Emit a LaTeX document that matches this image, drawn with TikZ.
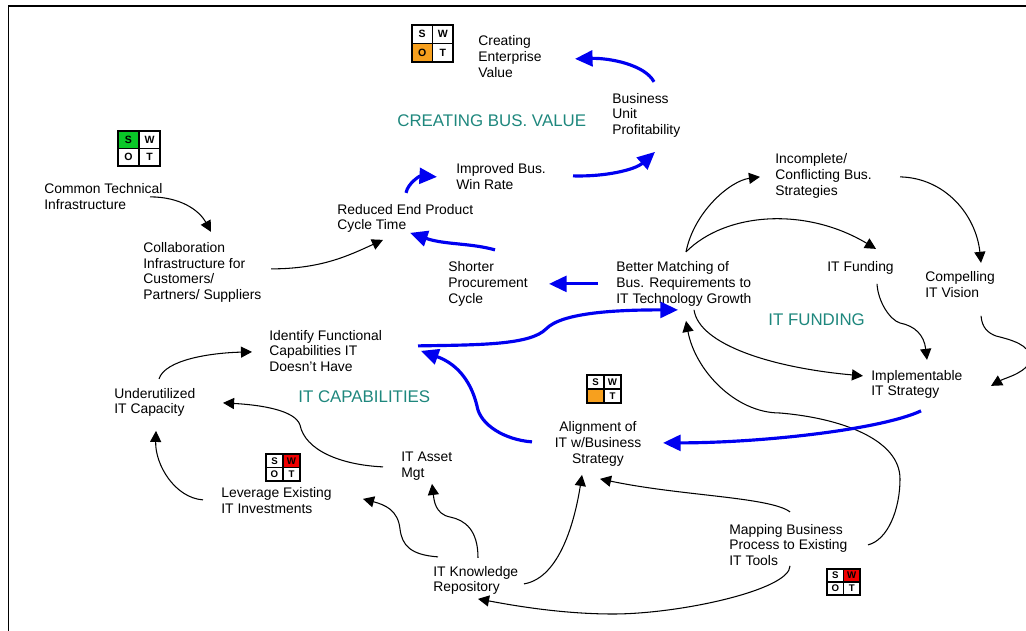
\documentclass[tikz,border=0pt]{standalone}
\usepackage{fontspec}
\setmainfont{Liberation Sans}
\usetikzlibrary{arrows.meta}
\definecolor{swotorange}{RGB}{247,160,30}
\definecolor{swotgreen}{RGB}{10,200,40}
\definecolor{swotred}{RGB}{240,0,0}
\definecolor{areateal}{RGB}{30,135,125}
\definecolor{flowblue}{RGB}{0,0,240}
\tikzset{%
    txt/.style={%
        inner sep=0pt, anchor=west, align=left, yshift=-0.5pt, font=\fontsize{7.9}{9}\selectfont
    },
    area/.style={%
        inner sep=0pt, anchor=west, text=areateal, font=\fontsize{9.6}{11}\selectfont
    },
    link/.style={%
        draw, line width=0.6pt, -{Triangle[length=6.3pt,width=6.3pt]}
    },
    flow/.style={%
        draw=flowblue, line width=1.8pt, -{Triangle[length=10pt,width=9pt]}
    },
    swotcell/.style={%
        draw, line width=0.75pt
    },
    swotletter/.style={%
        inner sep=0pt, font=\fontsize{#1}{#1}\selectfont\bfseries
    }
}
% name, corner, width, height, letter size, fills of S W O, letter of O
\newcommand{\swoticon}[9]{%
    \begin{scope}[shift={(#2)},xscale=#3,yscale=#4]
        \path[swotcell,fill=#6] (0,0) rectangle (0.5,0.5);
        \path[swotcell,fill=#7] (0.5,0) rectangle (1,0.5);
        \path[swotcell,fill=#8] (0,0.5) rectangle (0.5,1);
        \path[swotcell] (0.5,0.5) rectangle (1,1);
        \node[swotletter=#5] (#1s) at (0.25,0.25) {S};
        \node[swotletter=#5] (#1w) at (0.75,0.25) {W};
        \node[swotletter=#5] (#1o) at (0.25,0.75) {#9};
        \node[swotletter=#5] (#1t) at (0.75,0.75) {T};
    \end{scope}
}

\begin{document}
\begin{tikzpicture}[x=0.02cm,y=-0.02cm]
    \useasboundingbox (0,0) rectangle (1026,631);
    \draw[line width=1pt] (8.5,631) |- (1026,6);

    \swoticon{swotvalue}{412,25}{41}{37}{6}{white}{white}{swotorange}{O}
    \swoticon{swottech}{118,131}{42}{35}{6}{swotgreen}{white}{white}{O}
    \swoticon{swotalign}{587,375}{34}{28}{5.5}{white}{white}{swotorange}{}
    \swoticon{swotleverage}{266,454}{34}{27}{5.5}{white}{swotred}{white}{O}
    \swoticon{swotmapping}{827,569}{33}{26}{5.5}{white}{swotred}{white}{O}

    \node[area] (bus) at (397,121) {CREATING BUS. VALUE};
    \node[area] (fund) at (768,320) {IT FUNDING};
    \node[area] (cap) at (298,397) {IT CAPABILITIES};

    \node[txt] (creating) at (478,55.5) {Creating\\Enterprise\\Value};
    \node[txt] (business) at (612,114.5) {Business\\Unit\\Profitability};
    \node[txt] (incomplete) at (775,175) {Incomplete/\\Conflicting Bus.\\Strategies};
    \node[txt] (improved) at (456,176) {Improved Bus.\\Win Rate};
    \node[txt] (common) at (44,195.5) {Common Technical\\Infrastructure};
    \node[txt] (reduced) at (337,217.5) {Reduced End Product\\Cycle Time};
    \node[txt] (collab) at (143,271.5) {Collaboration\\Infrastructure for\\Customers/\\Partners/ Suppliers};
    \node[txt] (shorter) at (448,283) {Shorter\\Procurement\\Cycle};
    \node[txt] (better) at (616,283) {Better Matching of\\Bus. Requirements to\\IT Technology Growth};
    \node[txt] (funding) at (827,267) {IT Funding};
    \node[txt] (compelling) at (925,284) {Compelling\\IT Vision};
    \node[txt] (identify) at (269,350) {Identify Functional\\Capabilities IT\\Doesn't Have};
    \node[txt] (implement) at (871,383.5) {Implementable\\IT Strategy};
    \node[txt] (underused) at (114,401.5) {Underutilized\\IT Capacity};
    \node[txt,anchor=center,align=center] (align) at (598,443) {Alignment of\\IT w/Business\\Strategy};
    \node[txt] (asset) at (401,465.5) {IT Asset\\Mgt};
    \node[txt] (leverage) at (221,499.5) {Leverage Existing\\IT Investments};
    \node[txt] (mapping) at (729,544) {Mapping Business\\Process to Existing\\IT Tools};
    \node[txt] (repo) at (433,579.5) {IT Knowledge\\Repository};

    % black links
    \path[link] ([shift={(106,0.5)}]common.west) .. controls +(30,0) and +(-12,-22) .. ([shift={(68,-40.5)}]collab.west);
    \path[link] ([shift={(128,-3.5)}]collab.west) .. controls +(50,0) and +(-35,16) .. ([shift={(46,21.5)}]reduced.west);
    \path[link] ([shift={(70,-32)}]better.west) .. controls +(8,-40) and +(-30,4) .. ([shift={(-15,1)}]incomplete.west);
    \path[link] ([shift={(70,-32)}]better.west) .. controls +(40,-40) and +(-70,-42) .. ([shift={(49,-19)}]funding.west);
    \path[link] ([shift={(125,1)}]incomplete.west) .. controls +(45,1) and +(-5,-48) .. ([shift={(56,-22)}]compelling.west);
    \path[link] ([shift={(50,16)}]funding.west) .. controls +(1,18) and +(-10,-3) .. (900,323) .. controls +(15,3) and +(-3,-25) .. ([shift={(56,-24.5)}]implement.west);
    \path[link] ([shift={(56,31)}]compelling.west) .. controls +(1,12) and +(-8,-3) .. (996,336) .. controls +(16,4) and +(0,-13) .. (1030,358) .. controls +(0,14) and +(14,-8) .. ([shift={(120,1.5)}]implement.west);
    \path[link] ([shift={(78,26)}]better.west) .. controls +(5,35) and +(-90,-8) .. ([shift={(-8,-8.5)}]implement.west);
    \path[link] ([shift={(139,0)}]mapping.west) .. controls +(20,-5) and +(0,30) .. (900,479) .. controls +(0,-40) and +(60,5) .. (780,413) .. controls +(-45,0) and +(9,49) .. ([shift={(70,37)}]better.west);
    \path[link] ([shift={(61,-33)}]mapping.west) .. controls +(-20,-15) and +(80,17) .. ([shift={(2,35)}]align.center);
    \path[link] ([shift={(61,21)}]mapping.west) .. controls +(0,24) and +(67,0) .. (613,614) .. controls +(-53,0) and +(32,6) .. ([shift={(45,18.5)}]repo.west);
    \path[link] ([shift={(91,3.5)}]repo.west) .. controls +(36,-6) and +(-7,45) .. ([shift={(-16,31)}]align.center);
    \path[link] ([shift={(5,-23.5)}]repo.west) .. controls +(-28,-2) and +(2,16) .. (400,529) .. controls +(-2,-19) and +(22,6) .. ([shift={(142,-1.5)}]leverage.west);
    \path[link] ([shift={(45,-22.5)}]repo.west) .. controls +(0,-28) and +(15,3) .. (450,517) .. controls +(-15,-3) and +(2,16) .. ([shift={(31,17.5)}]asset.west);
    \path[link] ([shift={(-18,0.5)}]asset.west) .. controls +(-43,-2) and +(5,25) .. (300,425) .. controls +(-5,-15) and +(37,2) .. ([shift={(109,0.5)}]underused.west);
    \path[link] ([shift={(-18,-0.5)}]leverage.west) .. controls +(-28,-2) and +(-1,34) .. ([shift={(42,28.5)}]underused.west);
    \path[link] ([shift={(45,-23.5)}]underused.west) .. controls +(6,-19) and +(-42,1) .. ([shift={(-17,1)}]identify.west);

    % blue flows
    \path[flow] ([shift={(69,-25.5)}]reduced.west) .. controls +(2,-10) and +(-17,-1) .. ([shift={(-19,0)}]improved.west);
    \path[flow] ([shift={(117,-1)}]improved.west) .. controls +(32,1) and +(-20,18) .. ([shift={(43,36.5)}]business.west);
    \path[flow] ([shift={(42,-33.5)}]business.west) .. controls +(-9,-17) and +(35,-1) .. ([shift={(97,2.5)}]creating.west);
    \path[flow] ([shift={(47,-34)}]shorter.west) .. controls +(-25,-7) and +(35,12) .. ([shift={(73,14.5)}]reduced.west);
    \path[flow] ([shift={(-18,0)}]better.west) -- ([shift={(101,0)}]shorter.west);
    \path[flow] ([shift={(149,-5)}]identify.west) .. controls +(62,-1) and +(-16,16) .. (546,329) .. controls +(16,-17) and +(-58,0) .. ([shift={(62,26)}]better.west);
    \path[flow] ([shift={(-66,-2)}]align.center) .. controls +(-27,-2) and +(3,19) .. (477,406) .. controls +(-5,-21) and +(39,14) .. ([shift={(152,0)}]identify.west);
    \path[flow] ([shift={(50,26.5)}]implement.west) .. controls +(-41,19) and +(97,0) .. ([shift={(65,-1)}]align.center);
\end{tikzpicture}
\end{document}
